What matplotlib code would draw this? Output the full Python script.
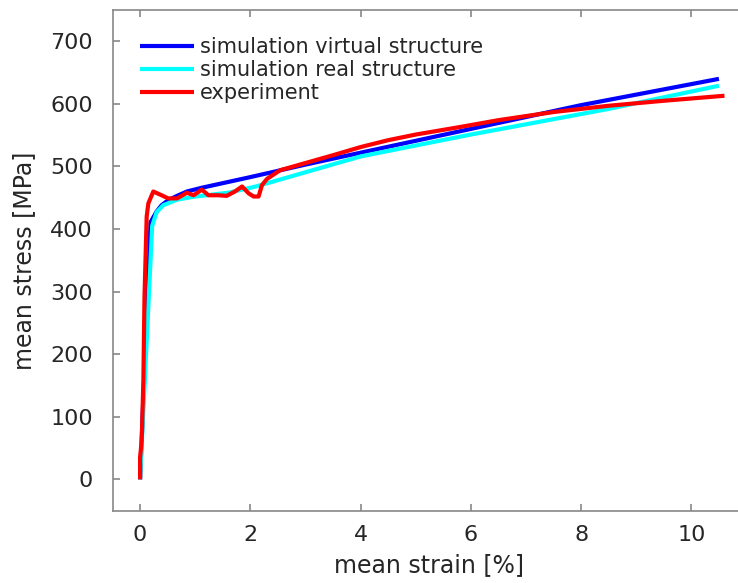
import matplotlib.pyplot as plt

# simulation, virtual microstructure
virt_strain = [0.0, 0.19, 0.3, 0.39, 0.51, 0.67, 0.85, 1.12, 2.0, 3.0, 4.0, 6.0, 8.0, 10.5]
virt_stress = [0, 411, 428, 438, 446, 453, 460, 466, 483, 503, 522, 560, 598, 640]

# simulation, real microstructure
real_strain = [0.0, 0.22, 0.3, 0.42, 0.67, 1.0, 1.6, 2.1, 4.0, 6.0, 8.5, 10.5]
real_stress = [0, 405, 427, 438, 447, 452, 458, 468, 516, 551, 592, 629]

# experiment
exp_strain = [0.0, 0.0, 0.03, 0.06, 0.08, 0.12, 0.15, 0.24, 0.39, 0.51, 0.67,
              0.85, 0.97, 1.12, 1.24, 1.42, 1.57, 1.72, 1.85, 1.97, 2.06,
              2.15, 2.21, 2.30, 2.54, 2.9, 3.5, 4.0, 4.5, 5.0, 5.8, 6.5,
              7.5, 8.5, 9.5, 10.6]
exp_stress = [0, 35, 62, 158, 291, 420, 441, 460, 454, 449, 449,
              458, 454, 463, 454, 454, 453, 460, 468, 457, 452,
              452, 470, 480, 494, 503, 518, 531, 542, 551, 563, 574,
              587, 597, 605, 613]

series = [
    (virt_strain, virt_stress, "#0000ff", "simulation virtual structure"),
    (real_strain, real_stress, "#00ffff", "simulation real structure"),
    (exp_strain, exp_stress, "#ff0000", "experiment"),
]

fig = plt.figure(figsize=(7.38, 5.83), dpi=100)
ax = fig.add_axes([112.5 / 738, 72.3 / 583, 634 / 738, 500.7 / 583])

for x, y, c, lab in series:
    ax.plot(x, y, color=c, lw=3, label=lab, solid_capstyle="butt",
            solid_joinstyle="round")

ax.set_xlim(-0.5, 11)
ax.set_ylim(-50, 750)
ax.set_xticks([0, 2, 4, 6, 8, 10])
ax.set_yticks(range(0, 701, 100))

for side in ["left", "bottom", "top"]:
    ax.spines[side].set_color("#888888")
    ax.spines[side].set_linewidth(1.2)
ax.spines["right"].set_visible(False)
ax.tick_params(direction="in", length=5, width=1.2, color="#888888",
               labelsize=16, labelcolor="#262626", top=True, pad=10)
ax.tick_params(axis="y", pad=14)

ax.set_xlabel("mean strain [%]", fontsize=17, color="#262626", labelpad=6)
ax.set_ylabel("mean stress [MPa]", fontsize=17, color="#262626", labelpad=10)

leg = ax.legend(loc="upper left", frameon=False, fontsize=15, handlelength=2.6,
                handletextpad=0.3, labelspacing=0.15, borderaxespad=0.3,
                bbox_to_anchor=(0.02, 0.975))
for t in leg.get_texts():
    t.set_color("#262626")

fig.savefig("out.png", dpi=100)
